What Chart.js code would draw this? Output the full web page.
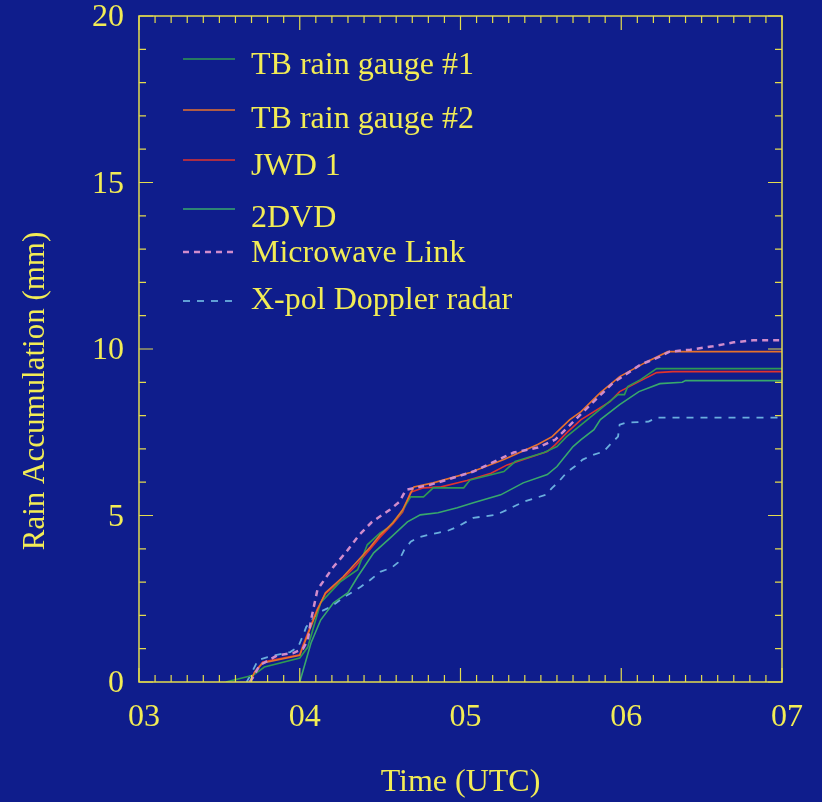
<!DOCTYPE html>
<html>
<head>
<meta charset="utf-8">
<script src="https://cdn.jsdelivr.net/npm/chart.js@4.4.1/dist/chart.umd.min.js"></script>
<style>
    body { margin: 0; background: #0f1d8c; }
    #wrap { width: 822px; height: 802px; position: relative; }
</style>
</head>
<body>
<div id="wrap"><canvas id="rainChart"></canvas></div>
<script>
// time in decimal hours UTC, rain accumulation in mm
var tb1Time = [3.54, 3.71, 3.78, 4.0, 4.05, 4.13, 4.25, 4.36, 4.42, 4.50, 4.55, 4.63, 4.69, 4.77, 4.83, 5.02, 5.06, 5.27, 5.34, 5.52, 5.60, 5.66, 5.79, 5.98, 6.02, 6.04, 6.12, 6.22, 7.0];
var tb1Rain = [0, 0.2, 0.45, 0.72, 1.05, 2.38, 3.0, 3.37, 4.12, 4.48, 4.63, 5.08, 5.56, 5.56, 5.83, 5.83, 6.07, 6.32, 6.62, 6.89, 7.07, 7.37, 7.88, 8.63, 8.63, 8.87, 9.08, 9.41, 9.41];

var tb2Time = [3.69, 3.72, 3.77, 4.0, 4.02, 4.11, 4.16, 4.27, 4.35, 4.44, 4.50, 4.58, 4.64, 4.67, 4.71, 4.83, 5.06, 5.27, 5.48, 5.57, 5.68, 5.75, 5.87, 5.99, 6.16, 6.29, 7.0];
var tb2Rain = [0, 0.3, 0.57, 0.8, 1.05, 2.17, 2.68, 3.16, 3.58, 4.06, 4.42, 4.78, 5.17, 5.47, 5.86, 5.98, 6.29, 6.68, 7.13, 7.37, 7.88, 8.12, 8.69, 9.17, 9.62, 9.92, 9.92];

var jwdTime = [3.69, 3.72, 3.77, 4.0, 4.02, 4.11, 4.16, 4.27, 4.35, 4.44, 4.50, 4.58, 4.64, 4.69, 4.77, 4.88, 5.04, 5.19, 5.29, 5.54, 5.59, 5.66, 5.75, 5.93, 5.99, 6.11, 6.22, 6.32, 7.0];
var jwdRain = [0, 0.3, 0.6, 0.82, 1.1, 2.2, 2.65, 3.1, 3.5, 4.0, 4.35, 4.75, 5.1, 5.7, 5.83, 5.86, 6.05, 6.27, 6.52, 6.92, 7.13, 7.48, 7.88, 8.42, 8.72, 9.02, 9.29, 9.32, 9.32];

var dvdTime = [4.0, 4.07, 4.13, 4.21, 4.30, 4.36, 4.46, 4.57, 4.67, 4.75, 4.86, 4.98, 5.08, 5.25, 5.39, 5.54, 5.60, 5.70, 5.75, 5.83, 5.87, 5.99, 6.11, 6.24, 6.38, 6.40, 7.0];
var dvdRain = [0, 1.17, 1.86, 2.38, 2.68, 3.16, 3.88, 4.36, 4.81, 5.02, 5.08, 5.23, 5.38, 5.62, 5.98, 6.23, 6.47, 7.07, 7.28, 7.58, 7.88, 8.33, 8.72, 8.96, 9.0, 9.05, 9.05];

var mwlTime = [3.69, 3.71, 3.75, 3.86, 3.96, 4.02, 4.05, 4.07, 4.11, 4.21, 4.29, 4.37, 4.45, 4.56, 4.62, 4.66, 4.81, 5.02, 5.08, 5.33, 5.48, 5.59, 5.64, 5.75, 5.95, 6.12, 6.24, 6.30, 6.43, 6.57, 6.70, 6.82, 7.0];
var mwlRain = [0, 0.15, 0.5, 0.8, 0.87, 1.0, 1.26, 1.86, 2.77, 3.46, 3.91, 4.42, 4.81, 5.17, 5.41, 5.77, 5.92, 6.23, 6.32, 6.89, 7.04, 7.28, 7.52, 8.05, 8.99, 9.53, 9.77, 9.92, 9.98, 10.08, 10.2, 10.26, 10.26];

var radarTime = [3.67, 3.70, 3.74, 3.80, 3.94, 3.99, 4.02, 4.04, 4.11, 4.19, 4.28, 4.38, 4.44, 4.50, 4.57, 4.61, 4.65, 4.69, 4.73, 4.80, 4.86, 4.92, 4.98, 5.08, 5.22, 5.29, 5.39, 5.47, 5.53, 5.57, 5.61, 5.66, 5.71, 5.76, 5.83, 5.89, 5.93, 5.98, 5.99, 6.03, 6.17, 6.22, 7.0];
var radarRain = [0, 0.27, 0.66, 0.75, 0.9, 1.05, 1.4, 1.65, 2.07, 2.25, 2.56, 2.86, 3.07, 3.31, 3.43, 3.58, 3.97, 4.21, 4.33, 4.42, 4.48, 4.54, 4.66, 4.93, 5.02, 5.17, 5.41, 5.53, 5.62, 5.83, 6.01, 6.29, 6.47, 6.68, 6.83, 6.92, 7.13, 7.37, 7.73, 7.79, 7.82, 7.94, 7.94];

var seriesNames = ['TB rain gauge #1', 'TB rain gauge #2', 'JWD 1', '2DVD', 'Microwave Link', 'X-pol Doppler radar'];

var YELLOW = '#f2ec55';
var FRAME = '#e4dc4e';
var SERIF = '"Liberation Serif", "Times New Roman", serif';

function pairs(t, v) {
    var out = [];
    for (var i = 0; i < t.length; i++) out.push({ x: t[i], y: v[i] });
    return out;
}

// frame with inward ticks on all four sides
var framePlugin = {
    id: 'frame',
    afterDatasetsDraw: function (chart) {
        var ctx = chart.ctx;
        var a = chart.chartArea;
        var xs = chart.scales.x, ys = chart.scales.y;
        ctx.save();
        ctx.strokeStyle = FRAME;
        ctx.lineWidth = 1.5;
        ctx.strokeRect(a.left, a.top, a.right - a.left, a.bottom - a.top);
        ctx.lineWidth = 1.2;
        ctx.beginPath();
        for (var i = 0; i <= 40; i++) {
            var px = xs.getPixelForValue(3 + i / 10);
            var len = (i % 10 == 0) ? 14 : 7;
            ctx.moveTo(px, a.bottom); ctx.lineTo(px, a.bottom - len);
            ctx.moveTo(px, a.top); ctx.lineTo(px, a.top + len);
        }
        for (var j = 0; j <= 20; j++) {
            var py = ys.getPixelForValue(j);
            var len2 = (j % 5 == 0) ? 14 : 7;
            ctx.moveTo(a.left, py); ctx.lineTo(a.left + len2, py);
            ctx.moveTo(a.right, py); ctx.lineTo(a.right - len2, py);
        }
        ctx.stroke();

        // y axis title, sits a bit below the middle of the plot
        ctx.translate(36, 391);
        ctx.rotate(-Math.PI / 2);
        ctx.fillStyle = YELLOW;
        ctx.font = '31px ' + SERIF;
        ctx.textAlign = 'center';
        ctx.textBaseline = 'middle';
        ctx.fillText('Rain Accumulation (mm)', 0, 0);
        ctx.restore();
    }
};

// legend inside the plot, one row per series
var legendPlugin = {
    id: 'innerLegend',
    afterDatasetsDraw: function (chart) {
        var ctx = chart.ctx;
        var lineY = [59, 110, 160, 209, 252, 301];
        var textY = [74, 128, 175, 227, 262, 309];
        ctx.save();
        chart.data.datasets.forEach(function (ds, i) {
            ctx.strokeStyle = ds.borderColor;
            ctx.lineWidth = ds.borderWidth;
            ctx.setLineDash(ds.borderDash || []);
            ctx.beginPath();
            ctx.moveTo(183, lineY[i]);
            ctx.lineTo(235, lineY[i]);
            ctx.stroke();
            ctx.setLineDash([]);
            ctx.fillStyle = YELLOW;
            ctx.font = '32px ' + SERIF;
            ctx.textBaseline = 'alphabetic';
            ctx.textAlign = 'left';
            ctx.fillText(ds.label, 251, textY[i]);
        });
        ctx.restore();
    }
};

const ctx = document.getElementById('rainChart').getContext('2d');
const rainChart = new Chart(ctx, {
    type: 'line',
    data: {
        datasets: [
            { label: seriesNames[0], data: pairs(tb1Time, tb1Rain), borderColor: '#2f9a52', borderWidth: 1.6, order: 2 },
            { label: seriesNames[1], data: pairs(tb2Time, tb2Rain), borderColor: '#e8722c', borderWidth: 1.6, order: 1 },
            { label: seriesNames[2], data: pairs(jwdTime, jwdRain), borderColor: '#e0332e', borderWidth: 1.6, order: 2 },
            { label: seriesNames[3], data: pairs(dvdTime, dvdRain), borderColor: '#38a86c', borderWidth: 1.6, order: 2 },
            { label: seriesNames[4], data: pairs(mwlTime, mwlRain), borderColor: '#d08ccc', borderWidth: 2.5, borderDash: [6, 5], order: 0 },
            { label: seriesNames[5], data: pairs(radarTime, radarRain), borderColor: '#6aaede', borderWidth: 1.8, borderDash: [7, 7], order: 2 }
        ]
    },
    options: {
        responsive: true,
        maintainAspectRatio: false,
        animation: false,
        elements: {
            point: { radius: 0 },
            line: { tension: 0, fill: false }
        },
        layout: {
            padding: { top: 16, right: 40, left: 0, bottom: 0 }
        },
        plugins: {
            legend: { display: false },
            tooltip: { enabled: false }
        },
        scales: {
            x: {
                type: 'linear',
                min: 3,
                max: 7,
                border: { display: false },
                grid: { display: false, drawTicks: false },
                ticks: {
                    stepSize: 1,
                    color: YELLOW,
                    font: { family: SERIF, size: 32 },
                    padding: 16,
                    labelOffset: 5,
                    maxRotation: 0,
                    callback: function (value) {
                        return '0' + value;
                    }
                },
                title: {
                    display: true,
                    text: 'Time (UTC)',
                    color: YELLOW,
                    font: { family: SERIF, size: 32 },
                    padding: { top: 0, bottom: 0 }
                },
                afterFit: function (scale) {
                    scale.height = 120;
                    scale.paddingLeft = 0;
                    scale.paddingRight = 0;
                }
            },
            y: {
                min: 0,
                max: 20,
                border: { display: false },
                grid: { display: false, drawTicks: false },
                ticks: {
                    stepSize: 5,
                    color: YELLOW,
                    font: { family: SERIF, size: 32 },
                    padding: 15,
                    labelOffset: 2
                },
                afterFit: function (scale) {
                    scale.width = 139;
                    scale.paddingTop = 0;
                    scale.paddingBottom = 0;
                }
            }
        }
    },
    plugins: [framePlugin, legendPlugin]
});
</script>
</body>
</html>
